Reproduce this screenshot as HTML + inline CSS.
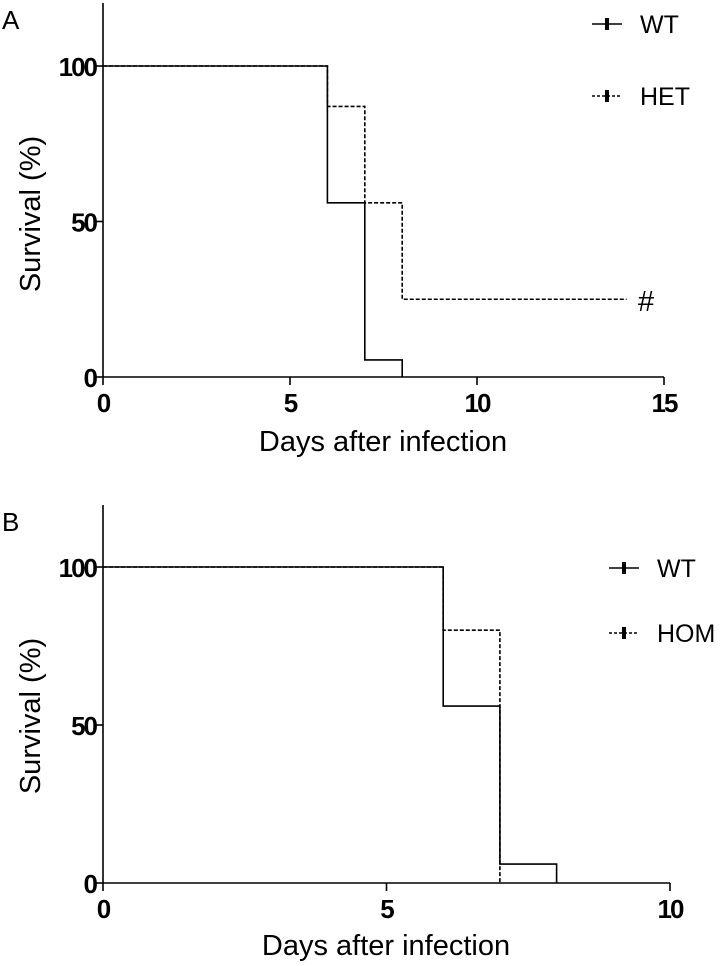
<!DOCTYPE html>
<html><head><meta charset="utf-8"><style>
body{margin:0;background:#fff}
svg{display:block;font-family:"Liberation Sans",sans-serif}
.tick{font-weight:bold;font-size:26px;letter-spacing:-2px}
.ax{stroke:#000;stroke-width:1.6;fill:none}
</style></head><body>
<svg id="s" width="720" height="966">
<text x="2" y="29" font-size="26">A</text>
<text x="2" y="531" font-size="26">B</text>
<text transform="translate(40,214) rotate(-90)" text-anchor="middle" font-size="29">Survival (%)</text>
<text transform="translate(40,716) rotate(-90)" text-anchor="middle" font-size="29">Survival (%)</text>
<text x="383" y="451" text-anchor="middle" font-size="29">Days after infection</text>
<text x="386" y="955" text-anchor="middle" font-size="29">Days after infection</text>
<text x="638" y="311" font-size="29">#</text>
</svg>
<script>
const yTicks=[0,50,100];
const xTicksA=[0,5,10,15];
const xTicksB=[0,5,10];
const wtA_t=[0,6,7,8];
const wtA_v=[100,56,5.5,0];
const hetA_t=[0,6,7,8,14];
const hetA_v=[100,87,56,25,25];
const wtB_t=[0,6,7,8];
const wtB_v=[100,56,6,0];
const homB_t=[0,6,7];
const homB_v=[100,80,0];
const NS='http://www.w3.org/2000/svg';
const svg=document.getElementById('s');
function mk(t,a){const e=document.createElementNS(NS,t);for(const k in a)e.setAttribute(k,a[k]);svg.appendChild(e);return e;}
function panel(p){
  const X=d=>p.x0+d*p.dx, Y=v=>p.y0-v*p.dy;
  const ya=mk('line',{x1:X(0),y1:p.top,x2:X(0),y2:Y(0),class:'ax'});
  
  
  const xa=mk('line',{x1:X(0),y1:Y(0),x2:X(p.xt[p.xt.length-1]),y2:Y(0),class:'ax'});
  
  
  yTicks.forEach(v=>{
    mk('line',{x1:X(0)-7,y1:Y(v),x2:X(0),y2:Y(v),class:'ax'});
    const t=mk('text',{x:X(0)-7,y:Y(v)+10,'text-anchor':'end',class:'tick'});t.textContent=v;
    
    
  });
  p.xt.forEach(v=>{
    mk('line',{x1:X(v),y1:Y(0),x2:X(v),y2:Y(0)+8,class:'ax'});
    const t=mk('text',{x:X(v),y:Y(0)+35,'text-anchor':'middle',class:'tick'});t.textContent=v;
    
    
  });
  p.series.forEach(s=>{
    let d='M'+X(s.t[0])+','+Y(s.v[0]);
    for(let i=1;i<s.t.length;i++){d+='H'+X(s.t[i])+'V'+Y(s.v[i]);}
    const a={d:d,fill:'none',stroke:'#000','stroke-width':1.6};
    if(s.dash)a['stroke-dasharray']='4,2';
    const e=mk('path',a);
    
    
    const ly=s.ly;
    const l=mk('line',{x1:p.lx,y1:ly,x2:p.lx+30,y2:ly,stroke:'#000','stroke-width':1.6});
    if(s.dash)l.setAttribute('stroke-dasharray','3,2');
    
    
    mk('rect',{x:p.lx+13,y:ly-6,width:4,height:12,fill:'#000'});
    const t=mk('text',{x:p.lx+48,y:ly+9,'font-size':25});t.textContent=s.name;
    
    
  });
}
panel({id:'a',x0:103,dx:37.4,y0:377,dy:3.11,top:3,xt:xTicksA,lx:592,
  series:[{name:'WT',t:wtA_t,v:wtA_v,ly:24},{name:'HET',t:hetA_t,v:hetA_v,dash:true,ly:96}]});
panel({id:'b',x0:103,dx:56.7,y0:883,dy:3.16,top:505,xt:xTicksB,lx:609,
  series:[{name:'WT',t:wtB_t,v:wtB_v,ly:568},{name:'HOM',t:homB_t,v:homB_v,dash:true,ly:633}]});
</script>
</body></html>
